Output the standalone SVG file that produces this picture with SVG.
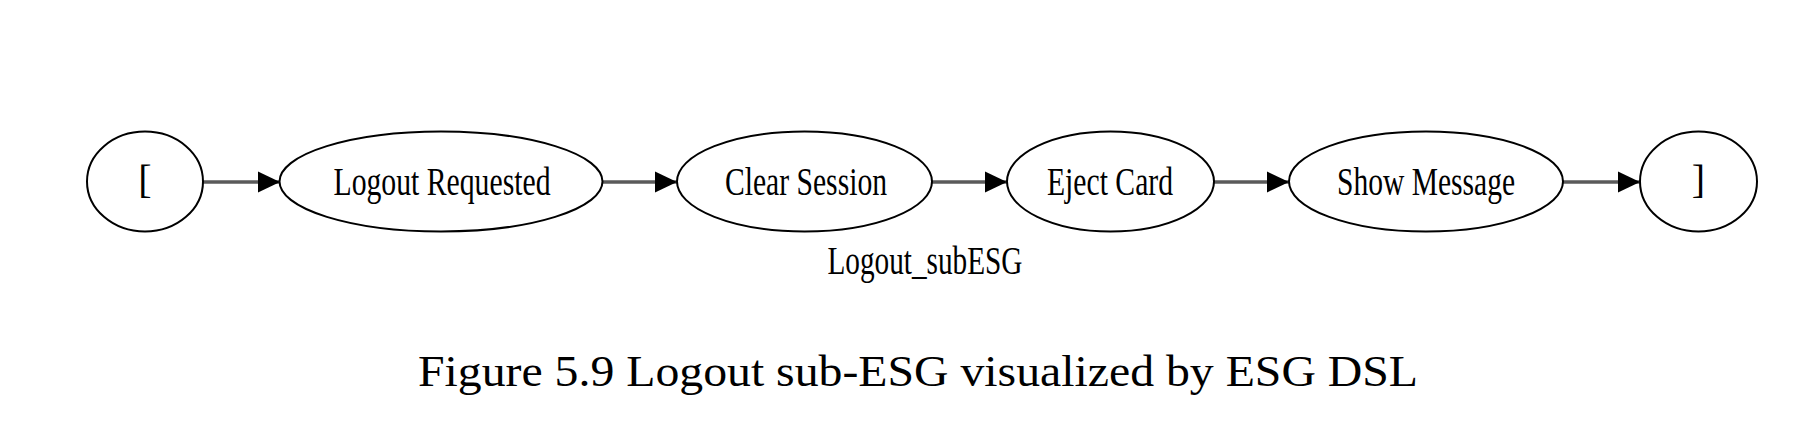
<svg xmlns="http://www.w3.org/2000/svg" width="1818" height="440" viewBox="0 0 1818 440">
  <style>
    .node { fill: #ffffff; stroke: #000000; stroke-width: 2; }
    .lbl { font-family: "Liberation Serif", "Times New Roman", serif; font-size: 40px; fill: #000000; text-anchor: middle; }
    .edge { stroke: #5a5a5a; stroke-width: 3.5; fill: none; }
    .cap { font-family: "Liberation Serif", "Times New Roman", serif; font-size: 45px; fill: #000000; text-anchor: middle; }
  </style>
  <defs>
    <marker id="arrow" markerUnits="userSpaceOnUse" markerWidth="23" markerHeight="22" refX="22" refY="11" orient="auto" viewBox="0 0 23 22">
      <path d="M0,0.5 L22,11 L0,21.5 z" fill="#000000"/>
    </marker>
  </defs>
  <rect x="0" y="0" width="1818" height="440" fill="#ffffff"/>

  <g id="edges">
    <line class="edge" x1="203" y1="182" x2="280" y2="182" marker-end="url(#arrow)"/>
    <line class="edge" x1="602" y1="182" x2="677" y2="182" marker-end="url(#arrow)"/>
    <line class="edge" x1="932" y1="182" x2="1007" y2="182" marker-end="url(#arrow)"/>
    <line class="edge" x1="1214" y1="182" x2="1289" y2="182" marker-end="url(#arrow)"/>
    <line class="edge" x1="1563" y1="182" x2="1640" y2="182" marker-end="url(#arrow)"/>
  </g>

  <g id="node-start">
    <ellipse class="node" cx="145" cy="181.5" rx="58" ry="50"/>
    <text class="lbl" x="145" y="193">[</text>
  </g>
  <g id="node-logout-requested">
    <ellipse class="node" cx="441" cy="181.5" rx="161.5" ry="50"/>
    <text class="lbl" x="442" y="195" textLength="217" lengthAdjust="spacingAndGlyphs">Logout Requested</text>
  </g>
  <g id="node-clear-session">
    <ellipse class="node" cx="804.5" cy="181.5" rx="127.5" ry="50"/>
    <text class="lbl" x="806" y="195" textLength="162" lengthAdjust="spacingAndGlyphs">Clear Session</text>
  </g>
  <g id="node-eject-card">
    <ellipse class="node" cx="1110.5" cy="181.5" rx="103.5" ry="50"/>
    <text class="lbl" x="1110" y="195" textLength="126" lengthAdjust="spacingAndGlyphs">Eject Card</text>
  </g>
  <g id="node-show-message">
    <ellipse class="node" cx="1426" cy="181.5" rx="137" ry="50"/>
    <text class="lbl" x="1426" y="195" textLength="178" lengthAdjust="spacingAndGlyphs">Show Message</text>
  </g>
  <g id="node-end">
    <ellipse class="node" cx="1698.5" cy="181.5" rx="58.5" ry="50"/>
    <text class="lbl" x="1698.5" y="193">]</text>
  </g>

  <g id="cluster-label">
    <text class="lbl" x="925" y="274" textLength="195" lengthAdjust="spacingAndGlyphs">Logout_subESG</text>
  </g>

  <g id="caption">
    <text class="cap" x="918" y="386" textLength="1000" lengthAdjust="spacingAndGlyphs">Figure 5.9 Logout sub-ESG visualized by ESG DSL</text>
  </g>
</svg>
